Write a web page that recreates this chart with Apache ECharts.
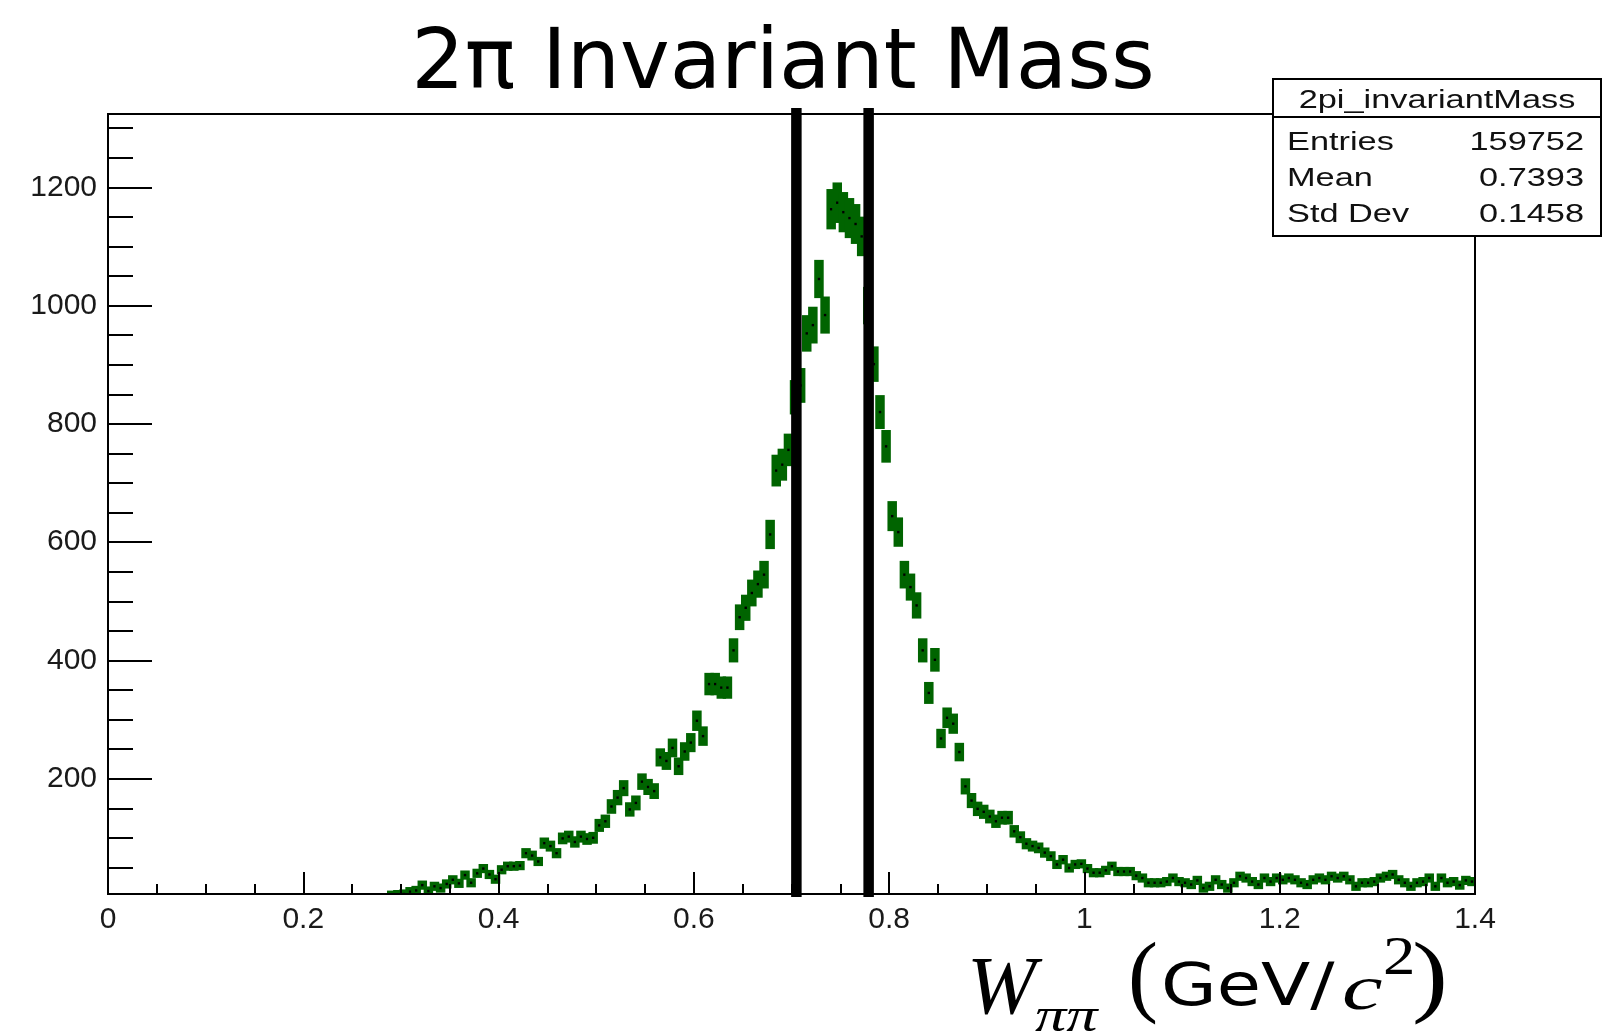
<!DOCTYPE html>
<html>
<head>
<meta charset="utf-8">
<script src="https://cdn.jsdelivr.net/npm/echarts@6/dist/echarts.min.js"></script>
<style>
  html, body { margin: 0; padding: 0; background: #ffffff; }
  #chart { width: 1604px; height: 1033px; }
</style>
</head>
<body>
<div id="chart"></div>
<script>
// Histogram binning: uniform bins starting at 0, first filled bin index below
const binWidth = 0.00625;
const firstBin = 46;

// Bin contents of the 2pi invariant mass histogram
const counts = [
  3, 4, 5, 9, 11, 20, 10, 18, 15, 22, 29, 23, 37, 24,
  40, 48, 38, 30, 46, 52, 52, 53, 74, 70, 60, 91, 86, 74, 99, 102, 93, 102, 98, 100,
  121, 128, 153, 168, 184, 148, 159, 195, 186, 179, 236, 230, 252, 221, 246, 261, 298, 272, 360, 360,
  354, 354, 417, 473, 489, 514, 529, 545, 613, 721, 731, 756, 845, 865, 953, 967, 1045, 984,
  1163, 1174, 1158, 1148, 1138, 1117, 1000, 901, 820, 762,
  644, 617, 545, 524, 493, 417, 345, 401, 268, 303, 293, 245, 187, 163, 149, 144, 136, 128, 134, 134,
  111, 101, 90, 86, 83, 75, 69, 55, 63, 49, 55, 56, 48, 41, 41, 45, 52, 43, 43, 43, 36,
  32, 24, 24, 24, 26, 32, 26, 24, 21, 28, 15, 18, 29, 21, 15, 24, 35, 32, 26, 21,
  32, 26, 32, 29, 32, 29, 24, 21, 29, 32, 29, 35, 32, 35, 29, 18, 24, 24, 26, 32,
  35, 38, 29, 24, 18, 24, 26, 32, 18, 32, 24, 26, 20, 28, 26
];

// Mass window cuts (GeV/c^2)
const cutLines = [0.705, 0.779];

// Axis ranges and tick values
const xRange = [0, 1.4];
const yRange = [5, 1324];
const yMajorTicks = [200, 400, 600, 800, 1000, 1200];
const yMinorTicks = [50, 100, 150, 250, 300, 350, 450, 500, 550, 650, 700, 750,
                     850, 900, 950, 1050, 1100, 1150, 1250, 1300];

// Statistics box contents
const statsName = '2pi_invariantMass';
const statsRows = [['Entries', '159752'], ['Mean', '0.7393'], ['Std Dev', '0.1458']];

const titleText = '2\u03c0 Invariant Mass';

const histData = counts.map((c, i) => [(firstBin + i + 0.5) * binWidth, c]);

const GREEN = '#006400';
const LABEL_FONT = '"Liberation Sans", Arial, sans-serif';
const TITLE_FONT = '"DejaVu Sans", Verdana, sans-serif';
const SERIF = '"Liberation Serif", "Times New Roman", serif';

// Error-bar style markers: Poisson uncertainty sqrt(N) around each bin content
function renderBin(params, api) {
  const x = api.value(0);
  const v = api.value(1);
  const err = Math.sqrt(v);
  const c = api.coord([x, v]);
  const hi = api.coord([x, v + err]);
  const lo = api.coord([x, v - err]);
  const half = Math.max((lo[1] - hi[1]) / 2, 4.6);
  const w = 9.5;
  return {
    type: 'group',
    children: [
      { type: 'rect', shape: { x: c[0] - w / 2, y: c[1] - half, width: w, height: half * 2 },
        style: { fill: GREEN } },
      { type: 'rect', shape: { x: c[0] - 1.2, y: c[1] - 1.2, width: 2.4, height: 2.4 },
        style: { fill: '#000000' } }
    ]
  };
}

// Thick vertical cut markers spanning the full frame height
function renderCut(params, api) {
  const x = api.value(0);
  const top = api.coord([x, yRange[1]]);
  const bottom = api.coord([x, yRange[0]]);
  const w = 10.5;
  return {
    type: 'rect',
    shape: { x: top[0] - w / 2, y: top[1] - 6, width: w, height: bottom[1] - top[1] + 9 },
    style: { fill: '#000000' }
  };
}

const chart = echarts.init(document.getElementById('chart'), null, { renderer: 'canvas' });

const statsX = 1273, statsY = 79, statsW = 328, statsH = 157, statsHeadH = 38;

function piece(text, x, y, font, scaleX) {
  return { type: 'text', x: x, y: y, z: 10, scaleX: scaleX || 1,
           style: { text: text, font: font, fill: '#000000', textAlign: 'left', textVerticalAlign: 'middle' } };
}

const option = {
  backgroundColor: '#ffffff',
  animation: false,
  grid: {
    left: 108, right: 129, top: 114, bottom: 139,
    show: true, borderColor: '#000000', borderWidth: 2, backgroundColor: 'transparent'
  },
  xAxis: {
    type: 'value', min: xRange[0], max: xRange[1], interval: 0.2, z: 3,
    axisLine: { onZero: false, lineStyle: { color: '#000000', width: 2 } },
    axisTick: { inside: true, length: 22, lineStyle: { color: '#000000', width: 2 } },
    minorTick: { show: true, splitNumber: 4, length: 10, lineStyle: { color: '#000000', width: 2 } },
    axisLabel: { color: '#1a1a1a', fontSize: 30, fontFamily: LABEL_FONT, margin: 11,
                 formatter: v => String(Math.round(v * 10) / 10) },
    splitLine: { show: false }
  },
  yAxis: [
    {
      type: 'value', min: yRange[0], max: yRange[1], position: 'left', z: 3,
      axisLine: { show: true, onZero: false, lineStyle: { color: '#000000', width: 2 } },
      axisTick: { show: true, inside: true, length: 44, customValues: yMajorTicks,
                  lineStyle: { color: '#000000', width: 2 } },
      axisLabel: { show: true, customValues: yMajorTicks, color: '#1a1a1a', fontSize: 30,
                   fontFamily: LABEL_FONT, margin: 11, formatter: v => String(Math.round(v)) },
      splitLine: { show: false }
    },
    {
      type: 'value', min: yRange[0], max: yRange[1], position: 'left', z: 3,
      axisLine: { show: false },
      axisTick: { show: true, inside: true, length: 25, customValues: yMinorTicks,
                  lineStyle: { color: '#000000', width: 2 } },
      axisLabel: { show: false },
      splitLine: { show: false }
    }
  ],
  series: [
    {
      type: 'custom', name: statsName, renderItem: renderBin, data: histData,
      xAxisIndex: 0, yAxisIndex: 0, clip: true, z: 2,
      encode: { x: 0, y: 1 }
    },
    {
      type: 'custom', name: 'cuts', renderItem: renderCut, data: cutLines.map(x => [x]),
      xAxisIndex: 0, yAxisIndex: 0, clip: false, z: 4,
      encode: { x: 0 }
    }
  ],
  graphic: [
    // Title
    { type: 'text', x: 783, y: 66, z: 10,
      style: { text: titleText, font: '84px ' + TITLE_FONT, fill: '#000000',
               textAlign: 'center', textVerticalAlign: 'middle' } },
    // Statistics box
    { type: 'rect', z: 10, shape: { x: statsX, y: statsY, width: statsW, height: statsH },
      style: { fill: '#ffffff', stroke: '#000000', lineWidth: 2 } },
    { type: 'line', z: 11, shape: { x1: statsX, y1: statsY + statsHeadH, x2: statsX + statsW, y2: statsY + statsHeadH },
      style: { stroke: '#000000', lineWidth: 2 } },
    { type: 'text', z: 12, x: 1437, y: 101, scaleX: 1.32,
      style: { text: statsName, font: '26px ' + LABEL_FONT, fill: '#111111',
               textAlign: 'center', textVerticalAlign: 'middle' } },
    ...statsRows.flatMap((row, i) => [
      { type: 'text', z: 12, x: 1287, y: 142.5 + i * 36, scaleX: 1.32,
        style: { text: row[0], font: '26px ' + LABEL_FONT, fill: '#111111',
                 textAlign: 'left', textVerticalAlign: 'middle' } },
      { type: 'text', z: 12, x: 1584, y: 142.5 + i * 36, scaleX: 1.32,
        style: { text: row[1], font: '26px ' + LABEL_FONT, fill: '#111111',
                 textAlign: 'right', textVerticalAlign: 'middle' } }
    ]),
    // X axis title: W_{pi pi} (GeV/c^2)
    piece('W', 967, 991, 'italic 83px ' + SERIF),
    piece('\u03c0\u03c0', 1035, 1018, 'italic 48px ' + SERIF, 1.3),
    piece('(', 1128, 981, '90px ' + SERIF),
    piece('GeV/', 1161, 990, '59px ' + TITLE_FONT, 1.22),
    piece('c', 1342, 992, 'italic 63px ' + SERIF, 1.45),
    piece('2', 1383, 960, '54px ' + SERIF, 1.2),
    piece(')', 1412, 981, '90px ' + SERIF, 1.2)
  ]
};

chart.setOption(option);
</script>
</body>
</html>
